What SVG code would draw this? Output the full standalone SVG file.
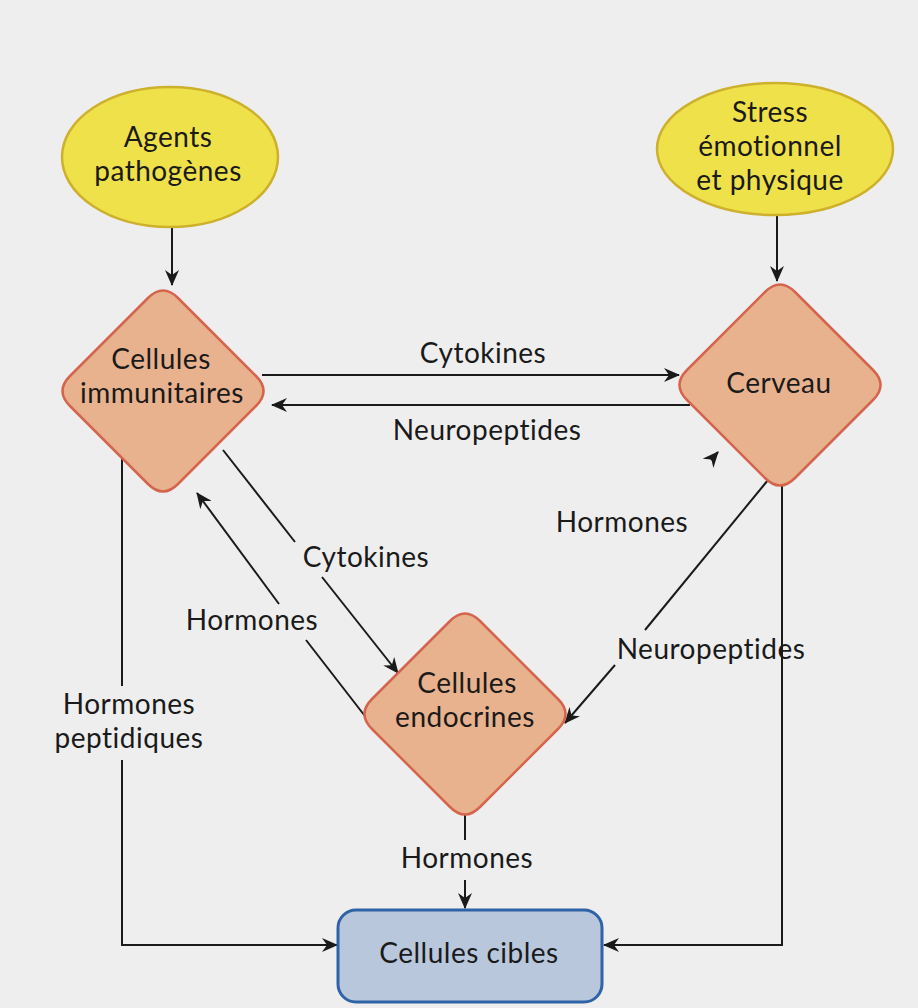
<svg xmlns="http://www.w3.org/2000/svg" width="918" height="1008" viewBox="0 0 918 1008">
<defs>
<marker id="arr" markerUnits="userSpaceOnUse" markerWidth="16" markerHeight="14" refX="15" refY="7" orient="auto">
<path d="M0,0 L16,7 L0,14 L5,7 Z" fill="#1a1a1a"/>
</marker>
<style>
.bg{fill:#eeeeee}
.ell{fill:#efe14a;stroke:#cdb02c;stroke-width:2.5}
.dia{fill:#e9b28e;stroke:#d4654c;stroke-width:2.5}
.box{fill:#b9c7dd;stroke:#2f62a6;stroke-width:3}
.ln{fill:none;stroke:#1a1a1a;stroke-width:2}
.t{font-family:Lato,"Open Sans",sans-serif;font-size:28px;letter-spacing:0.5px;fill:#1a1a1a;text-anchor:middle}
</style>
</defs>
<rect class="bg" x="0" y="0" width="918" height="1008"/>

<g id="connectors">
<path class="ln" d="M172,228 V285" marker-end="url(#arr)"/>
<path class="ln" d="M777,216 V281" marker-end="url(#arr)"/>
<path class="ln" d="M262,375 H679" marker-end="url(#arr)"/>
<path class="ln" d="M690,405 H272" marker-end="url(#arr)"/>
<path class="ln" d="M223,450 L295,542"/>
<path class="ln" d="M322,577 L398,673" marker-end="url(#arr)"/>
<path class="ln" d="M368,720 L306,640"/>
<path class="ln" d="M279,604 L197,493" marker-end="url(#arr)"/>
<path class="ln" d="M122,455 V686"/>
<path class="ln" d="M122,760 V945 H337" marker-end="url(#arr)"/>
<path class="ln" d="M465,800 V840"/>
<path class="ln" d="M465,880 V908" marker-end="url(#arr)"/>
<path class="ln" d="M782,470 V945 H604" marker-end="url(#arr)"/>
<path class="ln" d="M768,480 L645,630"/>
<path class="ln" d="M615,665 L565,723" marker-end="url(#arr)"/>
<path class="ln" d="M711,460 L718,452" marker-end="url(#arr)"/>
<text class="t" x="483" y="363">Cytokines</text>
<text class="t" x="487" y="440">Neuropeptides</text>
<text class="t" x="366" y="567">Cytokines</text>
<text class="t" x="252" y="630">Hormones</text>
<text class="t" x="622" y="532">Hormones</text>
<text class="t" x="711" y="659">Neuropeptides</text>
<text class="t" x="467" y="868">Hormones</text>
<text class="t" x="129" y="714">Hormones<tspan x="129" dy="34">peptidiques</tspan></text>
</g>

<g id="agents">
<ellipse class="ell" cx="170" cy="157" rx="108" ry="70"/>
<text class="t" x="168" y="147">Agents<tspan x="168" dy="34">pathogènes</tspan></text>
</g>

<g id="stress">
<ellipse class="ell" cx="775" cy="149" rx="118" ry="66"/>
<text class="t" x="770" y="122">Stress<tspan x="770" dy="34">émotionnel</tspan><tspan x="770" dy="34">et physique</tspan></text>
</g>

<g id="immunitaires">
<path class="dia" d="M148,298 Q163,283 178,298 L256,376 Q271,391 256,406 L178,484 Q163,499 148,484 L70,406 Q55,391 70,376 Z"/>
<text class="t" x="161" y="369">Cellules<tspan x="162" dy="34">immunitaires</tspan></text>
</g>

<g id="cerveau">
<path class="dia" d="M765,292 Q780,277 795,292 L873,370 Q888,385 873,400 L795,478 Q780,493 765,478 L687,400 Q672,385 687,370 Z"/>
<text class="t" x="779" y="393">Cerveau</text>
</g>

<g id="endocrines">
<path class="dia" d="M450,621 Q465,606 480,621 L558,699 Q573,714 558,729 L480,807 Q465,822 450,807 L372,729 Q357,714 372,699 Z"/>
<text class="t" x="467" y="693">Cellules<tspan x="465" dy="34">endocrines</tspan></text>
</g>

<g id="cibles">
<rect class="box" x="338" y="910" width="264" height="92" rx="18"/>
<text class="t" x="469" y="963">Cellules cibles</text>
</g>
</svg>
